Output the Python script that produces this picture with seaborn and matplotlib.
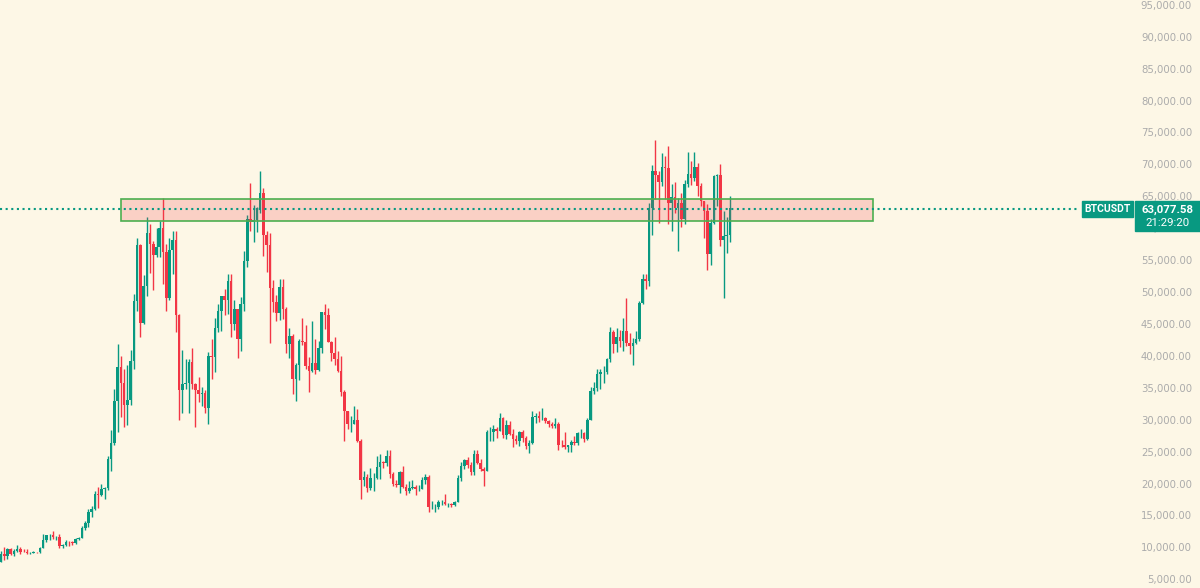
import numpy as np
import pandas as pd
import matplotlib
matplotlib.use("Agg")
import matplotlib.pyplot as plt
from matplotlib.patches import Rectangle
from matplotlib.ticker import FuncFormatter
import seaborn as sns

# weekly BTCUSDT candles, end of Apr 2020 -> Aug 2024, in thousands of USDT
opens = [
    # 2020
    7.7, 8.9, 8.7, 9.7, 8.9, 9.45, 9.7, 9.35, 9.3, 9.1, 9.1, 9.25, 9.2, 9.9, 11.1, 11.9, 11.9, 11.65,
    11.7, 10.25, 10.45, 10.9, 10.8, 10.65, 11.35, 11.5, 13.0, 13.75, 15.5, 16.0, 18.4, 18.2, 19.15, 19.25, 23.8, 26.3,
    # 2021
    33.0, 38.2, 35.8, 32.3, 33.1, 39.2, 48.6, 57.4, 45.1, 51.0, 59.3, 57.5, 55.8, 57.1, 60.0, 56.2, 49.1, 56.6,
    58.2, 46.4, 34.7, 35.6, 35.8, 39.0, 35.6, 34.7, 34.0, 34.2, 31.8, 39.9, 39.8, 44.4, 47.1, 49.3, 48.8, 51.8,
    45.0, 47.3, 42.7, 48.2, 54.9, 61.5, 61.0, 61.3, 63.1, 65.5, 59.0, 57.3, 50.6, 48.4, 46.7, 50.8,
    # 2022
    47.3, 41.8, 43.1, 36.3, 38.5, 42.4, 42.2, 38.4, 37.7, 38.9, 37.8, 41.3, 46.8, 46.4, 42.2, 40.4, 39.5, 37.6,
    34.3, 31.3, 29.4, 29.4, 29.9, 26.6, 20.5, 21.0, 19.3, 20.8, 20.8, 22.6, 23.3, 23.2, 24.3, 21.5, 20.0, 19.8,
    21.8, 19.4, 18.8, 19.3, 19.4, 19.2, 19.2, 20.6, 21.0, 16.3, 16.3, 16.4, 17.1, 17.1, 16.8, 16.8,
    # 2023
    16.6, 17.1, 20.9, 22.7, 23.7, 22.9, 21.8, 24.6, 23.2, 22.2, 22.0, 28.0, 28.0, 28.5, 28.3, 30.3, 27.6, 29.2,
    27.7, 26.9, 26.7, 28.1, 27.1, 25.9, 26.3, 30.5, 30.6, 30.2, 30.3, 29.8, 29.3, 29.0, 29.4, 26.1, 26.0, 25.8,
    26.0, 26.5, 26.3, 27.9, 27.9, 26.9, 30.0, 34.5, 35.0, 37.1, 37.4, 37.4, 39.5, 43.7, 41.9, 43.0,
    # 2024
    42.3, 43.9, 42.0, 41.6, 42.0, 42.6, 48.3, 52.1, 51.7, 63.1, 68.9, 68.4, 67.2, 69.6, 69.4, 63.9, 64.9, 63.1,
    64.0, 61.5, 66.9, 68.5, 67.8, 69.6, 66.6, 64.2, 62.7, 55.9, 60.8, 68.2, 68.3, 58.2, 58.7, 58.9,
]
highs = [
    9.5, 10.0, 9.9, 9.9, 9.7, 10.4, 10.0, 9.8, 9.8, 9.3, 9.45, 9.35, 10.0, 12.1, 12.0, 12.1, 12.5, 11.8,
    12.1, 10.6, 11.1, 10.95, 10.95, 11.5, 11.7, 13.3, 14.1, 15.95, 16.5, 18.8, 19.4, 19.9, 19.4, 24.3, 28.4, 34.8,
    41.9, 40.0, 37.9, 38.6, 40.9, 49.7, 58.4, 57.5, 52.6, 61.8, 60.6, 58.0, 60.0, 61.2, 64.8, 57.5, 58.5, 59.5,
    59.6, 46.6, 40.9, 39.5, 39.5, 41.3, 35.8, 36.7, 35.1, 34.7, 40.6, 42.6, 46.0, 48.1, 49.4, 50.5, 52.9, 52.9,
    48.8, 47.3, 49.2, 56.5, 62.0, 67.0, 63.7, 63.3, 69.0, 66.3, 59.5, 59.2, 51.9, 49.5, 52.0, 52.1,
    47.6, 44.4, 43.5, 38.9, 42.6, 45.9, 44.8, 39.8, 45.4, 42.6, 42.3, 46.9, 48.2, 47.5, 42.4, 42.9, 40.8, 40.0,
    34.6, 31.4, 30.6, 32.2, 31.7, 26.9, 21.9, 21.5, 22.5, 21.6, 24.3, 24.6, 23.6, 25.2, 25.2, 21.8, 20.6, 22.0,
    22.8, 19.9, 20.4, 20.5, 19.7, 19.7, 21.0, 21.5, 21.4, 17.2, 16.8, 17.4, 17.4, 18.4, 17.0, 16.9,
    17.2, 21.3, 23.4, 23.8, 24.2, 23.3, 25.2, 25.2, 23.9, 22.6, 28.4, 28.9, 29.2, 28.8, 31.0, 30.5, 30.0, 29.8,
    28.6, 27.6, 28.2, 28.4, 27.4, 26.8, 31.4, 31.0, 31.4, 31.8, 30.4, 30.0, 29.7, 30.2, 29.7, 26.8, 28.1, 26.1,
    26.8, 27.5, 28.0, 28.6, 28.0, 30.3, 35.2, 35.9, 38.0, 37.9, 38.4, 39.7, 44.5, 44.0, 44.4, 44.0,
    45.9, 49.0, 43.6, 42.8, 43.9, 48.6, 52.8, 52.9, 64.0, 69.9, 73.8, 68.9, 71.8, 71.3, 72.8, 66.9, 67.2, 64.7,
    65.5, 67.5, 71.9, 70.6, 71.9, 70.2, 67.0, 64.3, 63.8, 61.5, 68.4, 68.5, 70.0, 62.7, 61.8, 65.0,
]
lows = [
    7.7, 8.1, 8.2, 8.8, 8.6, 9.3, 9.0, 9.2, 9.0, 8.9, 9.05, 9.05, 9.1, 9.9, 10.9, 11.1, 11.3, 11.1,
    9.9, 9.9, 10.2, 10.2, 10.4, 10.5, 11.2, 11.4, 12.8, 13.2, 14.8, 15.8, 16.2, 18.1, 17.6, 19.0, 22.0, 26.0,
    28.0, 30.4, 28.8, 29.2, 32.3, 38.0, 47.0, 43.0, 45.0, 49.3, 53.0, 50.3, 55.5, 55.5, 51.3, 47.0, 48.8, 52.9,
    43.8, 30.0, 31.0, 34.8, 31.0, 34.8, 28.8, 32.7, 32.1, 31.0, 29.3, 36.4, 37.5, 43.8, 43.9, 46.4, 46.6, 43.0,
    44.0, 39.6, 40.7, 47.1, 53.9, 59.6, 57.8, 59.4, 62.3, 55.6, 53.2, 42.0, 46.8, 45.5, 45.6, 45.7,
    40.5, 39.6, 34.0, 32.9, 36.2, 41.7, 38.0, 34.3, 37.5, 37.2, 37.6, 40.5, 44.2, 42.1, 39.2, 38.6, 37.5, 33.7,
    26.7, 28.6, 28.0, 29.3, 26.5, 17.6, 19.6, 18.6, 19.0, 18.9, 20.7, 20.7, 22.5, 22.7, 20.8, 19.6, 19.5, 18.5,
    19.3, 18.2, 18.5, 19.2, 18.2, 18.9, 19.2, 20.0, 15.6, 16.0, 15.5, 16.0, 16.7, 16.6, 16.4, 16.3,
    16.5, 17.1, 20.4, 22.3, 22.5, 21.4, 21.4, 23.1, 21.9, 19.6, 21.9, 26.6, 26.6, 27.2, 28.2, 27.1, 26.9, 27.6,
    25.8, 26.2, 25.9, 26.5, 25.4, 24.8, 26.2, 29.5, 29.7, 29.9, 29.5, 28.9, 28.7, 28.7, 25.2, 25.8, 25.4, 24.9,
    24.9, 26.0, 26.0, 27.2, 26.5, 26.8, 29.9, 34.1, 34.5, 34.8, 35.7, 37.1, 39.0, 40.5, 40.6, 41.4,
    40.8, 41.5, 40.3, 38.5, 41.8, 42.3, 48.2, 50.5, 50.9, 59.0, 64.5, 60.8, 66.6, 64.5, 60.7, 59.6, 62.4, 56.5,
    60.2, 60.6, 66.4, 66.7, 67.4, 65.0, 63.4, 58.4, 53.5, 54.3, 60.6, 63.5, 57.2, 49.0, 56.1, 57.8,
]
closes = [
    8.9, 8.7, 9.7, 8.9, 9.45, 9.7, 9.35, 9.3, 9.1, 9.1, 9.25, 9.2, 9.9, 11.1, 11.9, 11.9, 11.65, 11.7,
    10.25, 10.45, 10.9, 10.8, 10.65, 11.35, 11.5, 13.0, 13.75, 15.5, 16.0, 18.4, 18.2, 19.15, 19.25, 23.8, 26.3, 33.0,
    38.2, 35.8, 32.3, 33.1, 39.2, 48.6, 57.4, 45.1, 51.0, 59.3, 57.5, 55.8, 57.1, 60.0, 56.2, 49.1, 56.6, 58.2,
    46.4, 34.7, 35.6, 35.8, 39.0, 35.6, 34.7, 34.0, 34.2, 31.8, 39.9, 39.8, 44.4, 47.1, 49.3, 48.8, 51.8, 45.0,
    47.3, 42.7, 48.2, 54.9, 61.5, 61.0, 61.3, 63.1, 65.5, 59.0, 57.3, 50.6, 48.4, 46.7, 50.8, 47.3,
    41.8, 43.1, 36.3, 38.5, 42.4, 42.2, 38.4, 37.7, 38.9, 37.8, 41.3, 46.8, 46.4, 42.2, 40.4, 39.5, 37.6, 34.3,
    31.3, 29.4, 29.4, 29.9, 26.6, 20.5, 21.0, 19.3, 20.8, 20.8, 22.6, 23.3, 23.2, 24.3, 21.5, 20.0, 19.8, 21.8,
    19.4, 18.8, 19.3, 19.4, 19.2, 19.2, 20.6, 21.0, 16.3, 16.3, 16.4, 17.1, 17.1, 16.8, 16.8, 16.6,
    17.1, 20.9, 22.7, 23.7, 22.9, 21.8, 24.6, 23.2, 22.2, 22.0, 28.0, 28.0, 28.5, 28.3, 30.3, 27.6, 29.2, 27.7,
    26.9, 26.7, 28.1, 27.1, 25.9, 26.3, 30.5, 30.6, 30.2, 30.3, 29.8, 29.3, 29.0, 29.4, 26.1, 26.0, 25.8, 26.0,
    26.5, 26.3, 27.9, 27.9, 26.9, 30.0, 34.5, 35.0, 37.1, 37.4, 37.4, 39.5, 43.7, 41.9, 43.0, 42.3,
    43.9, 42.0, 41.6, 42.0, 42.6, 48.3, 52.1, 51.7, 63.1, 68.9, 68.4, 67.2, 69.6, 69.4, 63.9, 64.9, 63.1, 64.0,
    61.5, 66.9, 68.5, 67.8, 69.6, 66.6, 64.2, 62.7, 55.9, 60.8, 68.2, 68.3, 58.2, 58.7, 58.9, 63.1,
]

symbol = "BTCUSDT"
last_price = 63077.58
last_time = "21:29:20"
price_ticks = list(range(5000, 95001, 5000))

# supply / resistance zone drawn on the chart (week index, price)
zone_start, zone_end = 37, 269
zone_low, zone_high = 61170, 64520

bg = "#fdf7e6"
up_col = "#089981"
down_col = "#f23645"

sns.set_theme(style="white", rc={"axes.facecolor": bg, "figure.facecolor": bg})
plt.rcParams["font.family"] = ["DejaVu Sans"]

df = pd.DataFrame({"open": opens, "high": highs, "low": lows, "close": closes}) * 1000
df["x"] = np.arange(len(df))
colors = np.where(df["close"] >= df["open"], up_col, down_col)

W, H = 1200, 588
step = 3.24  # px per candle
fig = plt.figure(figsize=(W / 100, H / 100), dpi=100)
ax_w = 1138
ax = fig.add_axes([0, 0, ax_w / W, 1])

ax.vlines(df["x"], df["low"], df["high"], colors=colors, linewidth=1.0, zorder=2)
ax.bar(df["x"], df["close"] - df["open"], bottom=df["open"], width=0.8,
       color=colors, linewidth=0, zorder=3)

ax.add_patch(Rectangle((zone_start, zone_low), zone_end - zone_start, zone_high - zone_low,
                       facecolor=(242 / 255, 54 / 255, 69 / 255, 0.2), edgecolor="#4caf50",
                       linewidth=1.2, zorder=4))

ax.axhline(last_price, xmin=0, xmax=1080 / ax_w, color=up_col, linewidth=1.5,
           linestyle=(0, (1, 1.7)), dash_capstyle="butt", zorder=5)

ax.set_xlim(-1 / step, (ax_w - 1) / step)
ax.set_ylim(3637, 95743)
ax.set_xticks([])
ax.yaxis.tick_right()
ax.set_yticks(price_ticks)
ax.yaxis.set_major_formatter(FuncFormatter(lambda v, p: f"{v:,.2f}"))
ax.tick_params(axis="y", length=0, pad=(1192 - ax_w) * 0.72, labelsize=7.3, labelcolor="#ababab")
plt.setp(ax.get_yticklabels(), ha="right")
sns.despine(ax=ax, left=True, bottom=True, right=True, top=True)

# last price labels on the price scale
fig.add_artist(Rectangle((1082 / W, 1 - 217 / H), 51 / W, 16 / H, transform=fig.transFigure,
                         color=up_col, zorder=5))
fig.add_artist(Rectangle((1135 / W, 1 - 231 / H), 65 / W, 30 / H, transform=fig.transFigure,
                         color=up_col, zorder=5))
fig.text(1107.5 / W, 1 - 209.5 / H, symbol, ha="center", va="center", color="white",
         fontsize=7.5, fontweight="bold", family=["Roboto", "DejaVu Sans"], zorder=6)
fig.text(1167 / W, 1 - 209.5 / H, f"{last_price:,.2f}", ha="center", va="center", color="white",
         fontsize=8.2, fontweight="bold", family=["Roboto", "DejaVu Sans"], zorder=6)
fig.text(1167 / W, 1 - 223.5 / H, last_time, ha="center", va="center", color="white",
         fontsize=8.2, family=["Roboto", "DejaVu Sans"], zorder=6)

fig.savefig("out.png", dpi=100, facecolor=bg)
